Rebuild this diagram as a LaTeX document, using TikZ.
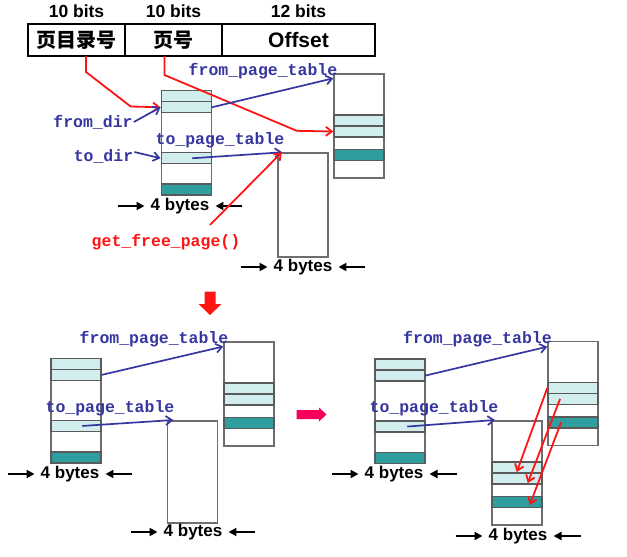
\documentclass[tikz,border=0pt]{standalone}
\usepackage{fontspec}
\setmainfont{Liberation Sans}
\newfontfamily\codefont{Liberation Mono}
\newfontfamily\cjkfont{Noto Sans CJK SC}
\usetikzlibrary{arrows.meta,positioning}

\definecolor{lteal}{HTML}{D2EDED}
\definecolor{dteal}{HTML}{2E9E9E}
\definecolor{rowline}{HTML}{5A5A5A}
\definecolor{boxline}{HTML}{6E6E6E}
\definecolor{codeblue}{HTML}{3636A0}
\definecolor{hotred}{HTML}{FF1414}
\definecolor{pinkred}{HTML}{F5005A}

% page directory: two entries at the top, one in the middle, one at the bottom
\newcommand{\dirtable}[3]{%
  \node[tbl, minimum height=104bp] (#1) at (#2,#3) {};
  \node[lrow] (#1r1) at (#2,#3) {};
  \node[lrow] (#1r2) at (#2,#3+11) {};
  \node[lrow] (#1r3) at (#2,#3+62) {};
  \node[drow] (#1r4) at (#2,#3+93.5) {};
}
% page table with its three used entries
\newcommand{\pagetable}[3]{%
  \node[tbl, minimum height=104bp] (#1) at (#2,#3) {};
  \node[lrow] (#1r1) at (#2,#3+41) {};
  \node[lrow] (#1r2) at (#2,#3+52) {};
  \node[drow] (#1r3) at (#2,#3+75.5) {};
}
% "4 bytes" width mark
\newcommand{\bytesmark}[3]{%
  \node[wlabel] (#1) at (#2,#3) {4 bytes};
  \draw[warr] (#1.west) ++(-27,0) -- (#1.west);
  \draw[warr] (#1.east) ++(27,0) -- (#1.east);
}

\begin{document}
\begin{tikzpicture}[
  x=1bp, y=-1bp,
  tbl/.style={draw=boxline, line width=1.5bp, minimum width=50bp, inner sep=0pt, anchor=north west},
  lrow/.style={tbl, draw=rowline, fill=lteal, minimum height=11bp},
  drow/.style={lrow, fill=dteal},
  field/.style={draw, line width=1.5bp, minimum height=32bp, inner sep=0pt, outer sep=0pt},
  bits/.style={font=\bfseries\fontsize{17.5bp}{20bp}\selectfont, inner sep=0pt},
  code/.style={text=codeblue, font=\codefont\bfseries\fontsize{16.5bp}{18bp}\selectfont, inner sep=1bp},
  barr/.style={draw=codeblue, line width=1.7bp, -{Straight Barb[length=6bp,width=9bp]}},
  rarr/.style={draw=hotred, line width=1.8bp, -{Straight Barb[length=6bp,width=9bp]}},
  wlabel/.style={font=\bfseries\fontsize{17bp}{20bp}\selectfont, inner xsep=6bp, inner ysep=0pt},
  warr/.style={line width=2.4bp, -{Triangle[length=8bp,width=8bp]}}
]
\useasboundingbox (0,0) rectangle (627,557);

% linear address
\node[field, anchor=north west, minimum width=97bp, font=\cjkfont\bfseries\fontsize{20bp}{22bp}\selectfont] (c1) at (28,24) {页目录号};
\node[field, right=0pt of c1, minimum width=97bp, font=\cjkfont\bfseries\fontsize{20bp}{22bp}\selectfont] (c2) {页号};
\node[field, right=0pt of c2, minimum width=153bp, font=\bfseries\fontsize{21bp}{24bp}\selectfont] (c3) {Offset};
\node[bits, above=6bp of c1] (b1) {10 bits};
\node[bits, above=6bp of c2] (b2) {10 bits};
\node[bits, above=6bp of c3] (b3) {12 bits};

% step 1
\dirtable{dirA}{160.5}{90}
\pagetable{ptA}{333.3}{73.3}
\node[tbl, minimum height=104bp] (toA) at (277.3,152.3) {};
\bytesmark{wdirA}{180}{206}
\bytesmark{wtoA}{303}{267}

\node[code] (lfromdir) at (93,122) {from\_dir};
\node[code] (ltodir) at (103.5,156) {to\_dir};
\node[code] (lfromA) at (263,71) {from\_page\_table};
\node[code] (ltoA) at (220,140) {to\_page\_table};
\node[code, text=hotred] (lgfp) at (166,242) {get\_free\_page()};

\draw[rarr] ([xshift=9.5bp]c1.south) -- ++(0,16) -- (130.7,106.5) -- (dirAr2.west);
\draw[rarr] ([xshift=-9bp]c2.south) -- ++(0,19) -- (296.7,130.8) -- (ptAr2.west);
\draw[barr] (lfromdir.east) -- (dirAr2.west);
\draw[barr] ([yshift=4bp]ltodir.east) -- (dirAr3.west);
\draw[barr] (dirAr2.east) -- ([yshift=-5bp]ptA.north west);
\draw[barr] ([xshift=6bp]dirAr3.center) -- ([xshift=5bp]toA.north west);
\draw[rarr] ([shift={(44bp,8bp)}]lgfp.north) -- ([xshift=4.5bp]toA.north west);

% down arrow
\fill[hotred] (204.5,291.7) -- (215.5,291.7) -- (215.5,304) -- (221.5,304) -- (210,315)
  -- (198.5,304) -- (204.5,304) -- cycle;

% step 2
\dirtable{dirB}{50}{357.7}
\pagetable{ptB}{223.3}{341}
\node[tbl, minimum height=102bp] (toB) at (166.7,420) {};
\bytesmark{wdirB}{70}{474}
\bytesmark{wtoB}{193}{532}

\node[code] (lfromB) at (154,339) {from\_page\_table};
\node[code] (ltoB) at (110,408) {to\_page\_table};
\draw[barr] (dirBr2.east) -- ([yshift=-5.5bp]ptB.north west);
\draw[barr] ([xshift=6.5bp]dirBr3.center) -- ([xshift=6.5bp]toB.north west);

% right arrow
\fill[pinkred] (296.7,410) -- (319,410) -- (319,407.5) -- (326.5,414.5) -- (319,421.5)
  -- (319,419) -- (296.7,419) -- cycle;

% step 3
\dirtable{dirC}{374}{358.3}
\pagetable{ptC}{547.3}{340.7}
\pagetable{toC}{491}{420}
\bytesmark{wdirC}{394}{474}
\bytesmark{wtoC}{518}{536}

\node[code] (lfromC) at (477.5,339) {from\_page\_table};
\node[code] (ltoC) at (434,408) {to\_page\_table};
\draw[barr] (dirCr2.east) -- ([yshift=-6bp]ptC.north west);
\draw[barr] ([xshift=7.5bp]dirCr3.center) -- ([xshift=4bp]toC.north west);
\draw[rarr] (ptCr1.west) -- ([yshift=1.5bp]toCr1.south);
\draw[rarr] ([xshift=-13bp]ptCr2.center) -- ([shift={(11bp,1.5bp)}]toCr2.south);
\draw[rarr] ([xshift=-12bp]ptCr3.center) -- ([shift={(13bp,3bp)}]toCr3.south);
\end{tikzpicture}
\end{document}
